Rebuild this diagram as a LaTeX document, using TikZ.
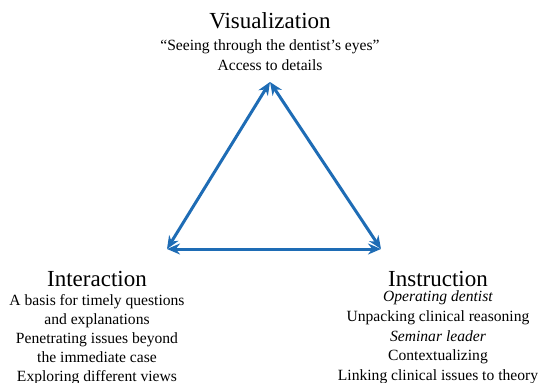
\documentclass[tikz,border=0pt]{standalone}
\usepackage{fontspec}
\setmainfont{Liberation Serif}
\usetikzlibrary{arrows.meta}
\definecolor{arrowblue}{RGB}{30,108,181}
\begin{document}
\begin{tikzpicture}[x=1pt,y=-1pt,
  title/.style={font=\fontsize{23}{26}\selectfont, inner sep=0pt, anchor=base},
  body/.style={font=\fontsize{15.6}{19.8}\selectfont, align=center, inner sep=0pt, anchor=north},
  link/.style={arrowblue, line width=3pt, {Stealth[length=13pt,width=11pt]}-{Stealth[length=13pt,width=11pt]}}]
\useasboundingbox (0,0) rectangle (544,383);
\coordinate (V) at (270,82);
\coordinate (L) at (167,249);
\coordinate (R) at (381,249);
\node[title] (vt) at (270,28) {Visualization};
\node[body, font=\fontsize{15.6}{20.2}\selectfont] (vb) at (270,39.5) {“Seeing through the dentist’s eyes”\\Access to details};
\node[title] (it) at (97,286) {Interaction};
\node[body, font=\fontsize{15.6}{19.1}\selectfont] (ib) at (97,294) {A basis for timely questions\\and explanations\\Penetrating issues beyond\\the immediate case\\Exploring different views};
\node[title] (rt) at (438,286) {Instruction};
\node[body] (rb) at (438,290.5) {\textit{Operating dentist}\\Unpacking clinical reasoning\\\textit{Seminar leader}\\Contextualizing\\Linking clinical issues to theory};
\draw[link] (V) -- (L);
\draw[link] (V) -- (R);
\draw[link] (L) -- (R);
\end{tikzpicture}
\end{document}
